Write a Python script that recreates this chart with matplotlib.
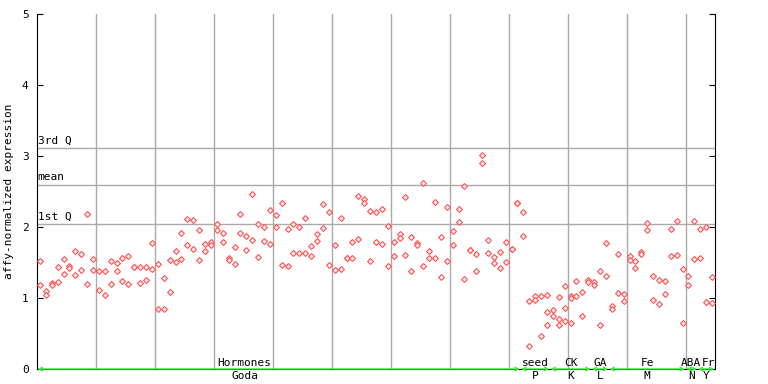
import matplotlib
matplotlib.use("Agg")
import matplotlib.pyplot as plt
import numpy as np

# expression values per sample position (two or three replicates each)
values = [
    [1.52, 1.18], [1.10, 1.04], [1.21, 1.19], [1.44, 1.23], [1.55, 1.34],
    [1.45, 1.42], [1.66, 1.32], [1.62, 1.39], [2.18, 1.20], [1.55, 1.39],
    [1.38, 1.11], [1.38, 1.04], [1.52, 1.20], [1.49, 1.38], [1.56, 1.24],
    [1.59, 1.20], [1.44, 1.44], [1.44, 1.21], [1.44, 1.25], [1.77, 1.41],
    [1.48, 0.85], [1.28, 0.85], [1.54, 1.08], [1.66, 1.51], [1.91, 1.55],
    [2.11, 1.75], [2.10, 1.69], [1.96, 1.54], [1.76, 1.66], [1.79, 1.75],
    [2.04, 1.96], [1.91, 1.79], [1.56, 1.54], [1.72, 1.48], [2.18, 1.91],
    [1.87, 1.68], [2.46, 1.82], [2.04, 1.58], [2.00, 1.80], [2.24, 1.76],
    [2.17, 2.00], [2.34, 1.46], [1.97, 1.45], [2.04, 1.63], [2.00, 1.63],
    [2.13, 1.63], [1.73, 1.59], [1.90, 1.80], [2.32, 1.99], [2.21, 1.46],
    [1.75, 1.39], [2.13, 1.41], [1.56, 1.56], [1.79, 1.56], [2.44, 1.83],
    [2.39, 2.34], [2.23, 1.52], [2.21, 1.79], [2.25, 1.76], [2.01, 1.45],
    [1.79, 1.59], [1.90, 1.85], [2.42, 1.61], [1.86, 1.38], [1.77, 1.75],
    [2.62, 1.45], [1.66, 1.56], [2.35, 1.56], [1.86, 1.30], [2.28, 1.52],
    [1.94, 1.75], [2.25, 2.07], [2.58, 1.27], [1.68, 1.68], [1.62, 1.38],
    [3.01, 2.90], [1.82, 1.63], [1.58, 1.49], [1.65, 1.42], [1.79, 1.51],
    [1.69, 1.69], [2.34, 2.34], [2.21, 1.87], [0.96, 0.32], [1.03, 0.97],
    [1.03, 0.46], [1.04, 0.80, 0.62], [0.83, 0.75], [1.01, 0.70, 0.62],
    [1.17, 0.86, 0.68], [1.03, 1.00, 0.65], [1.24, 1.03], [1.08, 0.75],
    [1.25, 1.22], [1.22, 1.18], [1.38, 0.62], [1.77, 1.31], [0.89, 0.85],
    [1.62, 1.07], [1.06, 0.96], [1.59, 1.54], [1.52, 1.42], [1.65, 1.62],
    [2.06, 1.96], [1.31, 0.97], [1.25, 0.92], [1.24, 1.06], [1.97, 1.59],
    [2.08, 1.61], [1.41, 0.65], [1.31, 1.18], [2.08, 1.55], [1.97, 1.56],
    [2.00, 0.94], [1.30, 0.93],
]

q1, mean, q3 = 2.04, 2.59, 3.11

# groups along the baseline
categories = ["Hormones", "seed", "CK", "GA", "Fe", "ABA", "Fr"]
experiments = ["Goda", "P", "K", "L", "M", "N", "Y"]
group_start = [0, 82, 87, 94, 97, 110, 112]
group_end = [81, 86, 93, 96, 109, 111, 114]

red = "#ff5050"
mono = "DejaVu Sans Mono"
fs = 8

fig = plt.figure(figsize=(7.68, 3.84), dpi=100)
ax = fig.add_axes([37 / 768, 15 / 384, 678 / 768, 355 / 384])

n = len(values)
for i, v in enumerate(values):
    ax.plot([i] * len(v), v, ls="none", marker="D", ms=3.0,
            mfc="#fff0f0", mec=red, mew=0.8, zorder=3)

ax.set_xlim(-0.5, n - 0.5)
ax.set_ylim(0, 5)

# vertical grid every 10 samples
for g in np.arange(9.5, n, 10):
    ax.axvline(g, color="#aaaaaa", lw=1, zorder=1)

for val, lab in [(q3, "3rd Q"), (mean, "mean"), (q1, "1st Q")]:
    ax.axhline(val, color="#aaaaaa", lw=1, zorder=1)
    ax.text(-0.4, val + 0.04, lab, family=mono, fontsize=fs, va="bottom", ha="left")

ax.set_xticks([])
ax.set_yticks(range(6))
ax.set_yticklabels([str(t) for t in range(6)], family=mono, fontsize=fs)
ax.tick_params(axis="y", direction="in", length=4, right=True, pad=6)
ax.spines["top"].set_visible(False)
for s in ["left", "right", "bottom"]:
    ax.spines[s].set_color("black")
ax.set_ylabel("affy-normalized expression", family=mono, fontsize=fs, labelpad=6)

# group ranges drawn as green arrows along the baseline
for k, (cat, exp, a, b) in enumerate(zip(categories, experiments, group_start, group_end)):
    ax.annotate("", xy=(a - 0.4, 0), xytext=(b + 0.4, 0),
                arrowprops=dict(arrowstyle="<->", color="#33ee33", lw=1,
                                mutation_scale=6, shrinkA=0, shrinkB=0),
                annotation_clip=False, zorder=4)
    mid = (a + b) / 2
    ha = "center"
    if k == 0:
        mid = 34.7
    elif cat == "ABA":
        mid, ha = 112.1, "right"
    elif cat == "Fr":
        mid, ha = 112.3, "left"
    ax.text(mid, 0.02, cat, family=mono, fontsize=fs, ha=ha, va="bottom")
    ax.text((a + b) / 2 if k else mid, -0.03, exp, family=mono, fontsize=fs,
            ha="center", va="top")

fig.savefig("out.png", dpi=100)
